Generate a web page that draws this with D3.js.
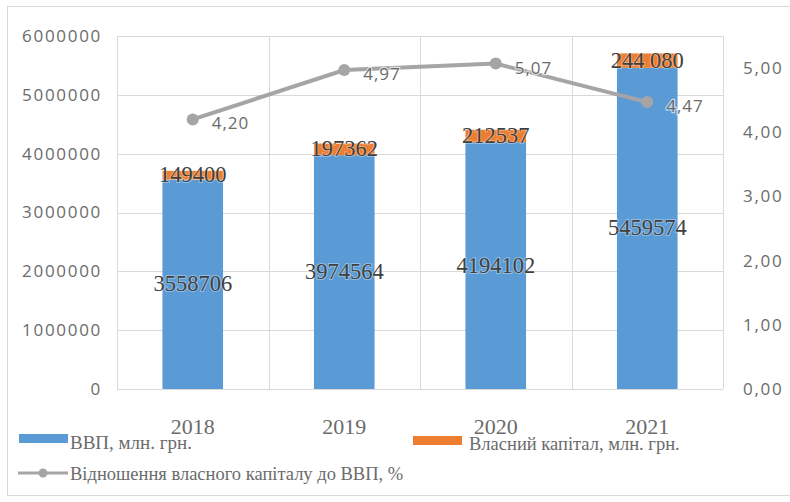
<!DOCTYPE html>
<html>
<head>
<meta charset="utf-8">
<script src="https://cdn.jsdelivr.net/npm/d3@7"></script>
<style>
  body { margin: 0; background: #fff; }
  svg { display: block; }
</style>
</head>
<body>
<svg id="chart" width="790" height="502"></svg>
<script>
// chart values
const years = ['2018', '2019', '2020', '2021'];
const gdp = [3558706, 3974564, 4194102, 5459574];
const equity = [149400, 197362, 212537, 244080];
const equityLabels = ['149400', '197362', '212537', '244 080'];
const ratio = [4.20, 4.97, 5.07, 4.47];
const leftTicks = [0, 1000000, 2000000, 3000000, 4000000, 5000000, 6000000];
const rightTicks = [0, 1, 2, 3, 4, 5];
const legendNames = ['ВВП, млн. грн.', 'Власний капітал, млн. грн.', 'Відношення власного капіталу до ВВП, %'];

const blue = '#5b9bd5', orange = '#ed7d31', grey = '#a5a5a5';
const grid = '#d9d9d9', tickColor = '#6b6b6b';
const serif = 'Liberation Serif';
const sans = 'Open Sans';

const svg = d3.select('#chart');

// outer frame of the chart
svg.append('rect')
    .attr('x', 7.5).attr('y', 6.5)
    .attr('width', 800).attr('height', 489)
    .attr('fill', '#fff').attr('stroke', '#d9d9d9');

const plot = {left: 117, right: 723, top: 36, bottom: 389};

const x = d3.scaleBand().domain(years).range([plot.left, plot.right]).padding(0);
const y = d3.scaleLinear().domain([0, 6000000]).range([plot.bottom, plot.top]);
const y2 = d3.scaleLinear().domain([0, 5.5]).range([plot.bottom, plot.top]);
const barW = x.bandwidth() * 0.4;

const g = svg.append('g');

// horizontal gridlines
g.selectAll('.hgrid').data(leftTicks).enter().append('line')
    .attr('x1', plot.left).attr('x2', plot.right)
    .attr('y1', d => Math.round(y(d)) + 0.5).attr('y2', d => Math.round(y(d)) + 0.5)
    .attr('stroke', grid);

// vertical gridlines at category boundaries
const bounds = years.map(d => x(d)).concat([plot.right]);
g.selectAll('.vgrid').data(bounds).enter().append('line')
    .attr('x1', d => Math.round(d) + 0.5).attr('x2', d => Math.round(d) + 0.5)
    .attr('y1', plot.top).attr('y2', plot.bottom)
    .attr('stroke', grid);

// left axis
const axL = svg.append('g')
    .attr('transform', `translate(${plot.left},0)`)
    .call(d3.axisLeft(y).tickValues(leftTicks).tickSize(0).tickPadding(15).tickFormat(d3.format('d')));
axL.select('.domain').remove();
axL.selectAll('text').attr('font-family', sans).attr('font-size', 17).attr('fill', tickColor).attr('letter-spacing', 1.7);

// right axis
const axR = svg.append('g')
    .attr('transform', `translate(${plot.right},0)`)
    .call(d3.axisRight(y2).tickValues(rightTicks).tickSize(0).tickPadding(20)
        .tickFormat(d => d3.format('.2f')(d).replace('.', ',')));
axR.select('.domain').remove();
axR.selectAll('text').attr('font-family', sans).attr('font-size', 17).attr('fill', tickColor).attr('letter-spacing', 1.7);

// category labels
svg.selectAll('.cat').data(years).enter().append('text')
    .attr('x', d => x(d) + x.bandwidth() / 2)
    .attr('y', 434)
    .attr('text-anchor', 'middle')
    .attr('font-family', serif).attr('font-size', 22).attr('fill', tickColor)
    .text(d => d);

// stacked bars
g.selectAll('.gdp').data(years).enter().append('rect')
    .attr('x', d => x(d) + (x.bandwidth() - barW) / 2)
    .attr('width', barW)
    .attr('y', (d, i) => y(gdp[i]))
    .attr('height', (d, i) => y(0) - y(gdp[i]))
    .attr('fill', blue);

g.selectAll('.eq').data(years).enter().append('rect')
    .attr('x', d => x(d) + (x.bandwidth() - barW) / 2)
    .attr('width', barW)
    .attr('y', (d, i) => y(gdp[i] + equity[i]))
    .attr('height', (d, i) => y(gdp[i]) - y(gdp[i] + equity[i]))
    .attr('fill', orange);

// bar value labels
const labelStyle = sel => sel
    .attr('text-anchor', 'middle')
    .attr('font-family', serif).attr('font-size', 22.5)
    .attr('fill', '#404040')
    .attr('stroke', 'rgba(255,255,255,0.35)').attr('stroke-width', 2)
    .attr('paint-order', 'stroke');

g.selectAll('.gdpLab').data(years).enter().append('text')
    .attr('x', d => x(d) + x.bandwidth() / 2)
    .attr('y', (d, i) => (y(0) + y(gdp[i])) / 2 + 7)
    .call(labelStyle)
    .text((d, i) => gdp[i]);

g.selectAll('.eqLab').data(years).enter().append('text')
    .attr('x', d => x(d) + x.bandwidth() / 2)
    .attr('y', (d, i) => (y(gdp[i]) + y(gdp[i] + equity[i])) / 2 + 7)
    .call(labelStyle)
    .text((d, i) => equityLabels[i]);

// ratio line on the secondary axis
const cx = d => x(d) + x.bandwidth() / 2;
const line = d3.line().x((d, i) => cx(years[i])).y(d => y2(d));

g.append('path')
    .datum(ratio)
    .attr('d', line)
    .attr('fill', 'none')
    .attr('stroke', grey).attr('stroke-width', 4);

g.selectAll('.pt').data(ratio).enter().append('circle')
    .attr('cx', (d, i) => cx(years[i]))
    .attr('cy', d => y2(d))
    .attr('r', 6)
    .attr('fill', grey);

g.selectAll('.ptLab').data(ratio).enter().append('text')
    .attr('x', (d, i) => cx(years[i]) + 19)
    .attr('y', d => y2(d) + 10)
    .attr('font-family', sans).attr('font-size', 17)
    .attr('fill', tickColor).attr('letter-spacing', 1)
    .attr('stroke', 'rgba(255,255,255,0.6)').attr('stroke-width', 2.5)
    .attr('paint-order', 'stroke')
    .text(d => d3.format('.2f')(d).replace('.', ','));

// legend
const legend = svg.append('g');
legend.append('rect').attr('x', 19).attr('y', 434).attr('width', 49).attr('height', 9).attr('fill', blue);
legend.append('text').attr('x', 70).attr('y', 449)
    .attr('font-family', serif).attr('font-size', 19).attr('fill', tickColor).text(legendNames[0]);

legend.append('rect').attr('x', 413).attr('y', 436).attr('width', 49).attr('height', 9).attr('fill', orange);
legend.append('text').attr('x', 469).attr('y', 450)
    .attr('font-family', serif).attr('font-size', 18.5).attr('fill', tickColor).text(legendNames[1]);

legend.append('line').attr('x1', 18).attr('x2', 68).attr('y1', 473).attr('y2', 473)
    .attr('stroke', grey).attr('stroke-width', 3);
legend.append('circle').attr('cx', 43).attr('cy', 473).attr('r', 4.5).attr('fill', grey);
legend.append('text').attr('x', 70).attr('y', 480)
    .attr('font-family', serif).attr('font-size', 18.5).attr('fill', tickColor).text(legendNames[2]);
</script>
</body>
</html>
